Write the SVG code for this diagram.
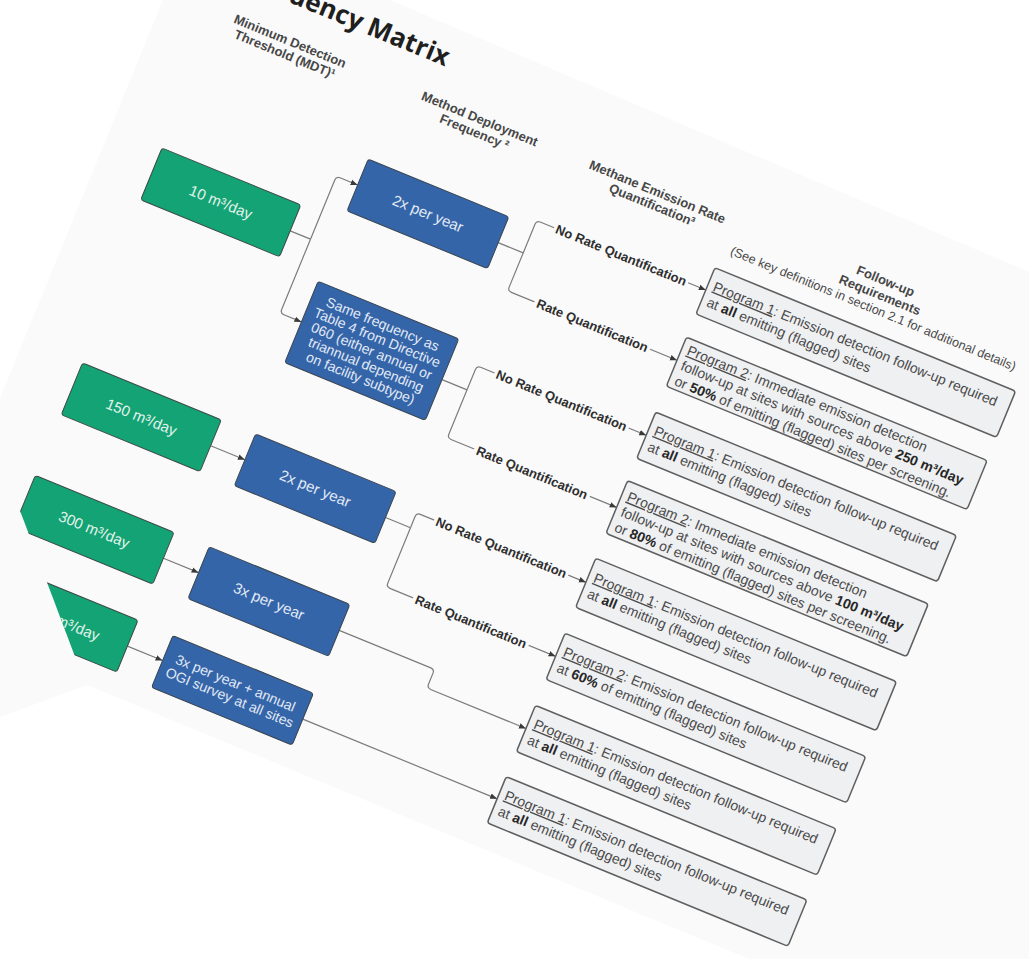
<svg xmlns="http://www.w3.org/2000/svg" width="1029" height="959" viewBox="0 0 1029 959">
<defs>
<style>
.g{fill:#13a374;stroke:#3b4a45;stroke-width:1}
.b{fill:#3565a9;stroke:#3a4552;stroke-width:1}
.fu{fill:#eff0f2;stroke:#5f5f5f;stroke-width:1.5}
.gt{font-family:"Liberation Sans",Arial,sans-serif;font-size:15px;fill:#e3f3ec;text-anchor:middle}
.bt{font-family:"Liberation Sans",Arial,sans-serif;font-size:15px;fill:#e2eaf6;text-anchor:middle}
.bt2{font-family:"Liberation Sans",Arial,sans-serif;font-size:14px;fill:#e2eaf6;text-anchor:middle}
.ft{font-family:"Liberation Sans",Arial,sans-serif;font-size:14px;fill:#4a4a4a}
.bd{font-weight:bold;fill:#262626}
.hd{font-family:"Liberation Sans",Arial,sans-serif;font-size:13px;font-weight:bold;fill:#474747;text-anchor:middle}
.lb{font-family:"Liberation Sans",Arial,sans-serif;font-size:13px;font-weight:bold;fill:#2e2e2e;text-anchor:middle}
.lbg{fill:#fafafa}
.cn{fill:none;stroke:#7c7c7c;stroke-width:1.2}
.ar{marker-end:url(#ah)}
</style>
<marker id="ah" markerWidth="8" markerHeight="8" refX="7" refY="4" orient="auto" markerUnits="userSpaceOnUse">
<path d="M0,1.2 L7,4 L0,6.8 Z" fill="#3a3a3a"/>
</marker>
<clipPath id="pageclip">
<polygon points="-210,-100 1100,-100 1100,1100 242,1100"/>
</clipPath>
</defs>
<rect x="0" y="0" width="1029" height="959" fill="#ffffff"/>
<polygon points="163,0 390,0 1029,272 1029,959 749,959 87,685 0,717 0,398" fill="#fafafa"/>
<g clip-path="url(#pageclip)">
<g transform="translate(162,148) rotate(22.3)">
<g id="title">
<text x="231" y="-183" font-family="'Open Sans','Liberation Sans',sans-serif" font-size="26" font-weight="bold" fill="#1f1f1f" text-anchor="end">uency Matrix</text>
</g>
<g id="headers">
<text class="hd" x="78" y="-143">Minimum Detection</text>
<text class="hd" x="78" y="-129">Threshold (MDT)¹</text>
<text class="hd" x="283" y="-143">Method Deployment</text>
<text class="hd" x="283" y="-129">Frequency ²</text>
<text class="hd" x="475" y="-143">Methane Emission Rate</text>
<text class="hd" x="475" y="-129">Quantification³</text>
<text class="hd" x="720" y="-147">Follow-up</text>
<text class="hd" x="720" y="-132">Requirements</text>
<text x="719" y="-117" font-family="'Liberation Sans',Arial,sans-serif" font-size="12.6" fill="#4a4a4a" text-anchor="middle">(See key definitions in section 2.1 for additional details)</text>
</g>
<g id="connectors">
<path class="cn" d="M150,28 H172"/>
<path class="cn ar" d="M172,28 V-36 Q172,-40 176,-40 H195"/>
<path class="cn ar" d="M172,28 V104 Q172,108 176,108 H195"/>
<path class="cn ar" d="M158,257 H195"/>
<path class="cn ar" d="M157,379 H195"/>
<path class="cn ar" d="M157,474 H195"/>
<path class="cn" d="M347,-40 H374"/>
<path class="cn ar" d="M374,-40 V-71 Q374,-75 378,-75 H557"/>
<path class="cn ar" d="M374,-40 V-3 Q374,1 378,1 H557"/>
<path class="cn" d="M347,108 H374"/>
<path class="cn ar" d="M374,108 V86 Q374,82 378,82 H557"/>
<path class="cn ar" d="M374,108 V156 Q374,160 378,160 H557"/>
<path class="cn" d="M347,257 H374"/>
<path class="cn ar" d="M374,257 V245 Q374,241 378,241 H557"/>
<path class="cn ar" d="M374,257 V317 Q374,321 378,321 H557"/>
<path class="cn ar" d="M347,379 H446 Q450,379 450,383 V395 Q450,399 454,399 H557"/>
<path class="cn ar" d="M347,475 H557"/>
<rect class="lbg" x="393" y="-82" width="145" height="14"/>
<text class="lb" x="465.5" y="-70.5">No Rate Quantification</text>
<rect class="lbg" x="403" y="-6" width="125" height="14"/>
<text class="lb" x="465.5" y="5.5">Rate Quantification</text>
<rect class="lbg" x="393" y="75" width="145" height="14"/>
<text class="lb" x="465.5" y="86.5">No Rate Quantification</text>
<rect class="lbg" x="403" y="153" width="125" height="14"/>
<text class="lb" x="465.5" y="164.5">Rate Quantification</text>
<rect class="lbg" x="393" y="234" width="145" height="14"/>
<text class="lb" x="465.5" y="245.5">No Rate Quantification</text>
<rect class="lbg" x="403" y="314" width="125" height="14"/>
<text class="lb" x="465.5" y="325.5">Rate Quantification</text>
</g>
<g id="mdt-10">
<rect class="g" x="0" y="0" width="150" height="56" rx="3"/>
<text class="gt" x="75" y="33">10 m³/day</text>
</g>
<g id="mdt-150">
<rect class="g" x="8" y="229" width="150" height="56" rx="3"/>
<text class="gt" x="83" y="262">150 m³/day</text>
</g>
<g id="mdt-300">
<rect class="g" x="7" y="351" width="150" height="56" rx="3"/>
<text class="gt" x="82" y="384">300 m³/day</text>
</g>
<g id="mdt-4">
<rect class="g" x="7" y="446" width="150" height="56" rx="3"/>
<text class="gt" x="104" y="481" text-anchor="end">m³/day</text>
</g>
<g id="freq-2x-a">
<rect class="b" x="195" y="-68" width="152" height="56" rx="3"/>
<text class="bt" x="271" y="-35">2x per year</text>
</g>
<g id="freq-same">
<rect class="b" x="195" y="64" width="152" height="88" rx="3"/>
<text class="bt2" x="271" y="84">Same frequency as</text>
<text class="bt2" x="271" y="98.6">Table 4 from Directive</text>
<text class="bt2" x="271" y="113.2">060 (either annual or</text>
<text class="bt2" x="271" y="127.8">triannual depending</text>
<text class="bt2" x="271" y="142.4">on facility subtype)</text>
</g>
<g id="freq-2x-b">
<rect class="b" x="195" y="229" width="152" height="56" rx="3"/>
<text class="bt" x="271" y="262">2x per year</text>
</g>
<g id="freq-3x">
<rect class="b" x="195" y="351" width="152" height="56" rx="3"/>
<text class="bt" x="271" y="384">3x per year</text>
</g>
<g id="freq-3x-ogi">
<rect class="b" x="195" y="447" width="152" height="56" rx="3"/>
<text class="bt2" x="271" y="472">3x per year + annual</text>
<text class="bt2" x="271" y="487.5">OGI survey at all sites</text>
</g>
<g id="fu1">
<rect class="fu" x="557" y="-99" width="325" height="50" rx="3"/>
<text class="ft" x="563" y="-77"><tspan text-decoration="underline">Program 1</tspan>: Emission detection follow-up required</text>
<text class="ft" x="563" y="-60">at <tspan class="bd">all</tspan> emitting (flagged) sites</text>
</g>
<g id="fu2">
<rect class="fu" x="557" y="-24" width="325" height="53" rx="3"/>
<text class="ft" x="563" y="-8"><tspan text-decoration="underline">Program 2</tspan>: Immediate emission detection</text>
<text class="ft" x="563" y="8.5">follow-up at sites with sources above <tspan class="bd">250 m³/day</tspan></text>
<text class="ft" x="563" y="25">or <tspan class="bd">50%</tspan> of emitting (flagged) sites per screening.</text>
</g>
<g id="fu3">
<rect class="fu" x="557" y="57" width="325" height="50" rx="3"/>
<text class="ft" x="563" y="79"><tspan text-decoration="underline">Program 1</tspan>: Emission detection follow-up required</text>
<text class="ft" x="563" y="96">at <tspan class="bd">all</tspan> emitting (flagged) sites</text>
</g>
<g id="fu4">
<rect class="fu" x="557" y="131" width="325" height="57" rx="3"/>
<text class="ft" x="563" y="150"><tspan text-decoration="underline">Program 2</tspan>: Immediate emission detection</text>
<text class="ft" x="563" y="166.5">follow-up at sites with sources above <tspan class="bd">100 m³/day</tspan></text>
<text class="ft" x="563" y="183">or <tspan class="bd">80%</tspan> of emitting (flagged) sites per screening.</text>
</g>
<g id="fu5">
<rect class="fu" x="557" y="215" width="325" height="53" rx="3"/>
<text class="ft" x="563" y="238"><tspan text-decoration="underline">Program 1</tspan>: Emission detection follow-up required</text>
<text class="ft" x="563" y="255">at <tspan class="bd">all</tspan> emitting (flagged) sites</text>
</g>
<g id="fu6">
<rect class="fu" x="557" y="296" width="325" height="50" rx="3"/>
<text class="ft" x="563" y="318"><tspan text-decoration="underline">Program 2</tspan>: Emission detection follow-up required</text>
<text class="ft" x="563" y="335">at <tspan class="bd">60%</tspan> of emitting (flagged) sites</text>
</g>
<g id="fu7">
<rect class="fu" x="557" y="374" width="325" height="50" rx="3"/>
<text class="ft" x="563" y="396"><tspan text-decoration="underline">Program 1</tspan>: Emission detection follow-up required</text>
<text class="ft" x="563" y="413">at <tspan class="bd">all</tspan> emitting (flagged) sites</text>
</g>
<g id="fu8">
<rect class="fu" x="557" y="451" width="325" height="50" rx="3"/>
<text class="ft" x="563" y="473"><tspan text-decoration="underline">Program 1</tspan>: Emission detection follow-up required</text>
<text class="ft" x="563" y="490">at <tspan class="bd">all</tspan> emitting (flagged) sites</text>
</g>
</g>
</g>
</svg>
